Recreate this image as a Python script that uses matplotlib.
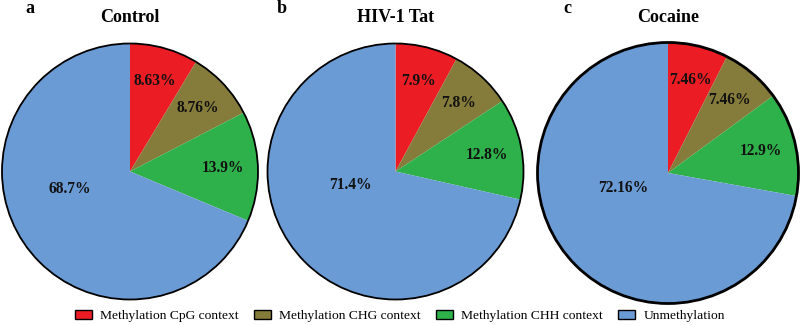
import matplotlib
matplotlib.use("Agg")
import matplotlib.pyplot as plt
from matplotlib.patches import Circle, Patch
import numpy as np

categories = ["Methylation CpG context", "Methylation CHG context",
              "Methylation CHH context", "Unmethylation"]
panel_letters = ["a", "b", "c"]
titles = ["Control", "HIV-1 Tat", "Cocaine"]
control_vals = [8.63, 8.76, 13.9, 68.7]
tat_vals = [7.9, 7.8, 12.8, 71.4]
cocaine_vals = [7.46, 7.46, 12.9, 72.16]
control_labels = ["8.63%", "8.76%", "13.9%", "68.7%"]
tat_labels = ["7.9%", "7.8%", "12.8%", "71.4%"]
cocaine_labels = ["7.46%", "7.46%", "12.9%", "72.16%"]

colors = ["#EC1C24", "#857B3A", "#2EB04A", "#6A9BD5"]

plt.rcParams['font.family'] = ['Liberation Serif', 'DejaVu Serif']

fig = plt.figure(figsize=(8, 3.25), dpi=100)
W, H = 800, 325

# layout: pie centers and radii in pixels
centers = [(130, 171.5), (395.5, 171.5), (668, 173)]
radii = [128, 128, 130.5]
edge_lw = [1.3, 1.3, 2.0]
blue_pos = [(-0.47, -0.14), (-0.35, -0.105), (-0.34, -0.115)]
letter_x = [30, 282, 567]

all_vals = [control_vals, tat_vals, cocaine_vals]
all_labels = [control_labels, tat_labels, cocaine_labels]

for i in range(3):
    cx, cy = centers[i]
    r = radii[i]
    ax = fig.add_axes([(cx - r) / W, (H - cy - r) / H, 2 * r / W, 2 * r / H])
    wedges, _ = ax.pie(all_vals[i], colors=colors, startangle=90,
                       counterclock=False, radius=1,
                       wedgeprops=dict(linewidth=0, edgecolor='none'))
    ax.add_patch(Circle((0, 0), 1, fill=False, edgecolor='black',
                        linewidth=edge_lw[i], zorder=5, clip_on=False))
    ax.set_xlim(-1, 1)
    ax.set_ylim(-1, 1)
    ax.set_aspect('equal')
    ax.axis('off')
    for j, w in enumerate(wedges):
        if j == 3:
            x, y = blue_pos[i]
        else:
            ang = np.deg2rad((w.theta1 + w.theta2) / 2)
            x, y = 0.73 * np.cos(ang), 0.73 * np.sin(ang)
        ax.text(x, y, all_labels[i][j], ha='center', va='center',
                fontsize=11.2, fontweight='bold', color='#111111')
    fig.text(cx / W, 1 - 17 / H, titles[i], ha='center', va='center',
             fontsize=13, fontweight='bold')
    fig.text(letter_x[i] / W, 1 - 8.5 / H, panel_letters[i], ha='center',
             va='center', fontsize=13, fontweight='bold')

handles = [Patch(facecolor=c, edgecolor='black', linewidth=1.0) for c in colors]
fig.legend(handles, categories, loc='center', bbox_to_anchor=(400 / W, 1 - 316 / H),
           ncol=4, frameon=False, fontsize=9.7, handlelength=1.25,
           handleheight=0.65, handletextpad=0.6, columnspacing=1.15,
           borderaxespad=0, borderpad=0)

fig.savefig("out.png", dpi=100)
